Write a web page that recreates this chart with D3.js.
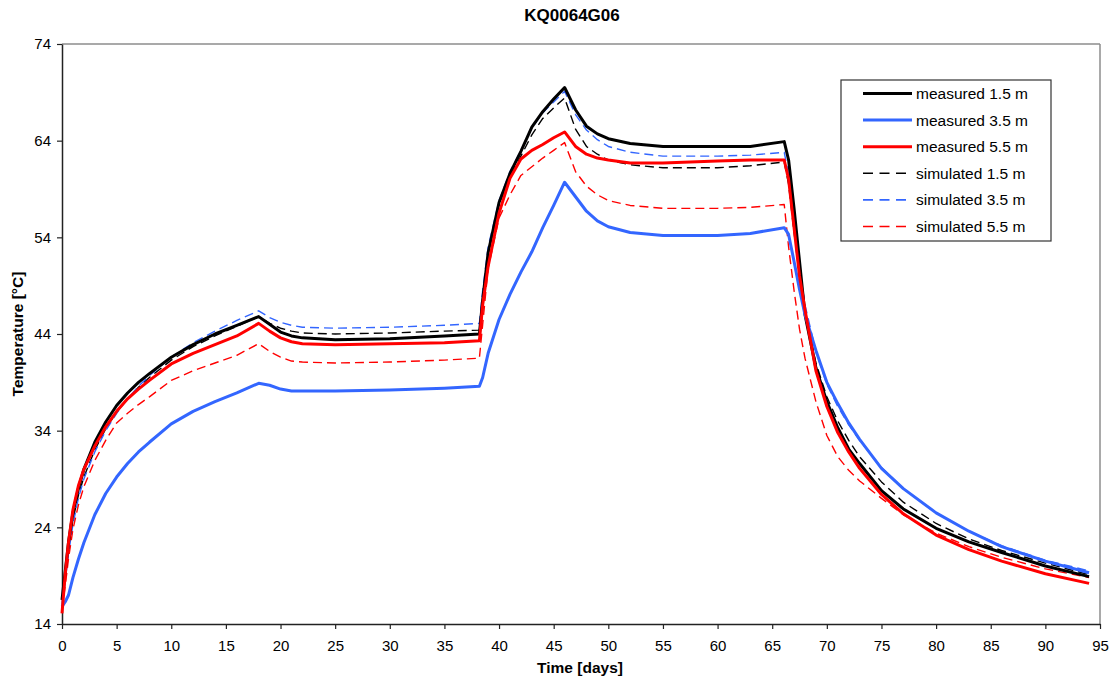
<!DOCTYPE html>
<html>
<head>
<meta charset="utf-8">
<script src="https://cdn.jsdelivr.net/npm/d3@7"></script>
<style>
  body { margin: 0; background: #fff; }
  text { font-family: "Liberation Sans", Arial, sans-serif; }
</style>
</head>
<body>
<svg id="chart" width="1115" height="682"></svg>
<script>
// time in days (shared by all series)
var days = [0, 0.3, 0.6, 1, 1.5, 2, 3, 4, 5, 6, 7, 8, 10, 12, 14, 16, 18, 19, 20, 21, 22, 25, 30, 35, 38.2,
  38.5, 39, 40, 41, 42, 43, 44, 45, 46, 47, 48, 49, 50, 52, 55, 60, 63, 66.1,
  66.5, 67, 67.5, 68, 69, 70, 71, 72, 73, 75, 77, 80, 83, 86, 90, 94];

var measured15 = [16.5, 19.5, 22.5, 25.5, 28.0, 30.0, 32.8, 34.9, 36.6, 37.9, 39.0, 39.9, 41.6, 42.9, 44.0, 44.9, 45.8, 45.0, 44.2, 43.8, 43.6, 43.4, 43.5, 43.8, 44.0,
  47.5, 52.4, 57.6, 60.6, 62.9, 65.4, 67.0, 68.3, 69.5, 67.2, 65.5, 64.7, 64.2, 63.7, 63.4, 63.4, 63.4, 63.9,
  62.0, 57.0, 51.5, 46.0, 40.5, 37.0, 34.3, 32.1, 30.6, 27.8, 25.9, 23.9, 22.5, 21.4, 20.0, 18.9];

var measured35 = [15.8, 16.3, 17.0, 18.8, 20.7, 22.4, 25.3, 27.5, 29.2, 30.6, 31.8, 32.8, 34.7, 36.0, 37.0, 37.9, 38.9, 38.7, 38.3, 38.1, 38.1, 38.1, 38.2, 38.4, 38.6,
  39.5, 42.0, 45.5, 48.1, 50.4, 52.5, 55.0, 57.3, 59.7, 58.2, 56.7, 55.7, 55.1, 54.5, 54.2, 54.2, 54.4, 55.0,
  54.3, 51.5, 48.6, 46.0, 42.3, 39.0, 36.8, 34.8, 33.1, 30.1, 28.0, 25.5, 23.6, 22.0, 20.5, 19.3];

var measured55 = [15.1, 19.2, 22.5, 25.8, 28.3, 30.0, 32.4, 34.4, 36.0, 37.3, 38.3, 39.2, 40.9, 42.0, 42.9, 43.8, 45.1, 44.3, 43.6, 43.2, 43.0, 42.9, 43.0, 43.1, 43.3,
  47.0, 51.0, 56.5, 60.1, 62.1, 63.0, 63.6, 64.3, 64.9, 63.4, 62.6, 62.2, 62.0, 61.7, 61.7, 61.9, 62.0, 62.0,
  60.0, 55.0, 50.0, 46.5, 40.2, 36.5, 33.8, 31.8, 30.1, 27.4, 25.4, 23.2, 21.7, 20.5, 19.2, 18.2];

var simulated15 = [16.5, 19.0, 21.8, 24.8, 27.3, 29.2, 32.0, 34.2, 35.9, 37.3, 38.5, 39.5, 41.3, 42.7, 43.8, 44.8, 45.8, 45.1, 44.6, 44.3, 44.1, 44.0, 44.1, 44.3, 44.4,
  48.0, 52.5, 57.4, 60.3, 62.4, 64.6, 66.3, 67.4, 68.4, 65.2, 63.4, 62.6, 62.0, 61.5, 61.2, 61.2, 61.4, 61.8,
  59.5, 54.5, 50.0, 46.2, 41.0, 37.5, 35.0, 33.0, 31.3, 28.7, 26.6, 24.4, 22.8, 21.6, 20.3, 19.1];

var simulated35 = [16.0, 18.5, 21.3, 24.3, 27.0, 29.0, 31.8, 34.0, 35.8, 37.3, 38.6, 39.7, 41.6, 43.1, 44.3, 45.4, 46.4, 45.7, 45.2, 44.9, 44.7, 44.6, 44.7, 44.9, 45.1,
  48.5, 53.0, 57.8, 60.8, 63.0, 65.3, 66.9, 68.0, 69.1, 66.7, 65.1, 64.1, 63.4, 62.8, 62.4, 62.4, 62.5, 62.8,
  60.5, 55.5, 51.0, 47.0, 42.2, 38.8, 36.5, 34.6, 33.0, 30.2, 28.0, 25.5, 23.6, 22.1, 20.6, 19.5];

var simulated55 = [15.5, 18.0, 20.8, 23.8, 26.3, 28.2, 30.9, 33.0, 34.8, 35.8, 36.7, 37.5, 39.2, 40.2, 41.0, 41.8, 43.0, 42.2, 41.6, 41.2, 41.1, 41.0, 41.1, 41.3, 41.5,
  45.0, 50.8, 56.0, 58.4, 60.4, 61.3, 62.2, 63.0, 63.8, 60.8, 59.3, 58.4, 57.8, 57.3, 57.0, 57.0, 57.1, 57.4,
  53.0, 48.5, 44.5, 41.5, 37.0, 33.5, 31.3, 29.9, 28.8, 27.0, 25.3, 23.4, 22.0, 20.9, 19.7, 18.8];

var seriesNames = ["measured 1.5 m", "measured 3.5 m", "measured 5.5 m",
  "simulated 1.5 m", "simulated 3.5 m", "simulated 5.5 m"];
var seriesValues = [measured15, measured35, measured55, simulated15, simulated35, simulated55];

var xTicks = d3.range(0, 96, 5);
var yTicks = [14, 24, 34, 44, 54, 64, 74];

var colors = ["#000000", "#3366FF", "#FF0000", "#000000", "#3366FF", "#FF0000"];

var margin = {top: 44, right: 15, bottom: 58, left: 62};
var width = 1115 - margin.left - margin.right;
var height = 682 - margin.top - margin.bottom;

var svg = d3.select("#chart");
var g = svg.append("g")
    .attr("transform", "translate(" + margin.left + "," + margin.top + ")");

var x = d3.scaleLinear().domain([0, 95]).range([0, width]);
var y = d3.scaleLinear().domain([14, 74]).range([height, 0]);

// plot area frame (top and right in grey)
g.append("line")
    .attr("x1", 0).attr("x2", width).attr("y1", 0).attr("y2", 0)
    .attr("stroke", "#8c8c8c").attr("stroke-width", 1.5);
g.append("line")
    .attr("x1", width).attr("x2", width).attr("y1", 0).attr("y2", height)
    .attr("stroke", "#8c8c8c").attr("stroke-width", 1.5);

var xAxis = g.append("g")
    .attr("transform", "translate(0," + height + ")")
    .call(d3.axisBottom(x).tickValues(xTicks).tickSize(5).tickPadding(11).tickSizeOuter(0));
var yAxis = g.append("g")
    .call(d3.axisLeft(y).tickValues(yTicks).tickSize(5).tickPadding(6).tickSizeOuter(0));

[xAxis, yAxis].forEach(function(a) {
  a.select(".domain").attr("stroke", "#222").attr("stroke-width", 1.5);
  a.selectAll(".tick line").attr("stroke", "#222").attr("stroke-width", 1.2);
  a.selectAll(".tick text")
    .attr("fill", "#000")
    .style("font-size", "15px")
    .style("font-family", "'Liberation Sans', Arial, sans-serif");
});

var line = d3.line()
    .x(function(d, i) { return x(days[i]); })
    .y(function(d) { return y(d); });

// simulated (dashed) first, measured on top
[3, 4, 5, 0, 1, 2].forEach(function(k) {
  g.append("path")
    .datum(seriesValues[k])
    .attr("fill", "none")
    .attr("stroke", colors[k])
    .attr("stroke-width", k < 3 ? 3 : 1.4)
    .attr("stroke-dasharray", k < 3 ? null : "9,5")
    .attr("stroke-linejoin", "round")
    .attr("d", line);
});

// legend
var legend = svg.append("g").attr("transform", "translate(841,80)");
legend.append("rect")
    .attr("width", 210).attr("height", 161)
    .attr("fill", "#fff").attr("stroke", "#333").attr("stroke-width", 1.2);

seriesNames.forEach(function(name, k) {
  var ly = 13.5 + k * 26.6;
  legend.append("line")
    .attr("x1", 22).attr("x2", 71)
    .attr("y1", ly).attr("y2", ly)
    .attr("stroke", colors[k])
    .attr("stroke-width", k < 3 ? 3 : 1.6)
    .attr("stroke-dasharray", k < 3 ? null : "10,6.5");
  legend.append("text")
    .attr("x", 75).attr("y", ly)
    .attr("dy", "0.35em")
    .style("font-size", "15.5px")
    .text(name);
});

// titles
svg.append("text")
    .attr("x", 572).attr("y", 21)
    .attr("text-anchor", "middle")
    .style("font-size", "17px").style("font-weight", "bold")
    .text("KQ0064G06");

svg.append("text")
    .attr("x", 580).attr("y", 673)
    .attr("text-anchor", "middle")
    .style("font-size", "15.5px").style("font-weight", "bold")
    .text("Time [days]");

svg.append("text")
    .attr("transform", "translate(23," + (margin.top + height / 2) + ") rotate(-90)")
    .attr("text-anchor", "middle")
    .style("font-size", "15.5px").style("font-weight", "bold")
    .text("Temperature [°C]");
</script>
</body>
</html>
